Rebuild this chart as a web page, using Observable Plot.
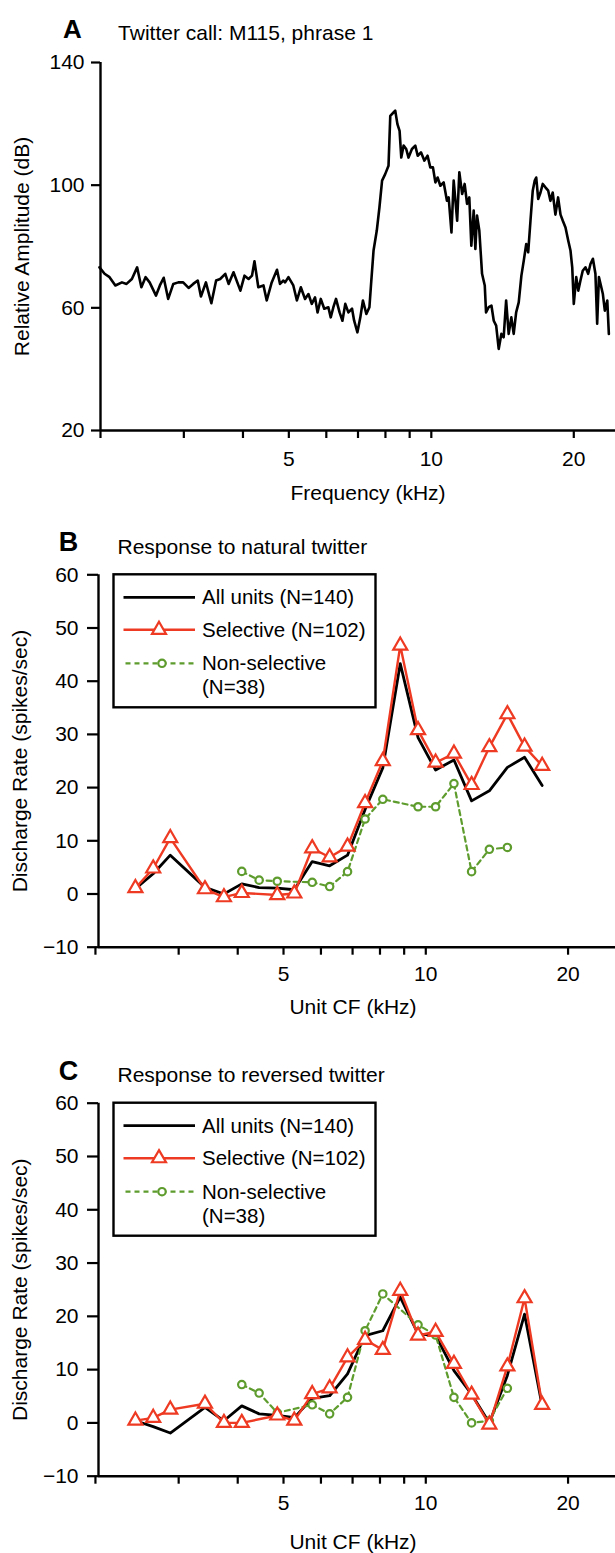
<!DOCTYPE html>
<html><head><meta charset="utf-8">
<script src="https://cdn.jsdelivr.net/npm/d3@7"></script>
<script src="https://cdn.jsdelivr.net/npm/@observablehq/plot@0.6"></script>
<style>
html,body{margin:0;padding:0;background:#fff;}
#page{position:relative;width:615px;height:1553px;overflow:hidden;background:#fff;}
#page svg{position:absolute;left:0;}
</style></head><body><div id="page"></div>
<script>
// ---------- DATA ----------
// Panel A: spectrum of twitter call (frequency kHz, relative amplitude dB)
const specFreq = [1.99,2.04,2.09,2.15,2.22,2.27,2.33,2.39,2.44,2.49,2.54,2.62,2.67,2.72,2.78,2.85,2.92,2.99,3.07,3.14,3.21,3.26,3.34,3.43,3.51,3.58,3.67,3.73,3.82,3.95,4.03,4.11,4.18,4.23,4.31,4.42,4.49,4.60,4.72,4.79,4.87,
4.91,4.99,5.11,5.20,5.30,5.41,5.50,5.59,5.68,5.75,5.84,5.94,6.06,6.13,6.21,6.29,6.40,6.49,6.58,6.68,6.80,6.87,6.98,7.08,7.17,7.29,7.40,7.46,7.55,7.67,7.77,7.87,7.99,8.12,8.19,8.32,8.39,8.48,8.57,8.64,8.74,8.85,8.95,9.10,9.25,9.36,9.51,9.67,9.82,9.95,10.08,10.20,10.31,10.45,10.62,10.79,
10.88,11.03,11.15,11.34,11.46,11.62,11.76,11.90,12.03,12.15,12.29,12.39,12.49,12.63,12.80,12.97,13.05,13.22,13.40,13.55,13.71,13.88,14.06,14.22,14.39,14.57,14.76,14.93,15.11,15.30,15.50,15.68,15.87,16.02,16.20,16.38,16.54,16.66,16.82,17.01,17.20,17.42,17.66,17.85,18.05,18.29,18.53,18.75,18.96,19.21,19.47,19.68,19.85,20.00,20.24,20.44,20.66,20.89,21.17,21.45,21.69,21.95,22.22,22.41,22.60,22.82,23.04,23.26,23.54,23.72];
const specDb = [73.2,71.1,70.0,67.3,68.3,67.8,69.4,73.2,66.7,70.0,68.3,64.0,67.3,69.8,62.9,67.8,68.3,68.3,66.5,67.8,68.9,63.7,68.3,61.5,68.9,69.4,71.1,67.8,71.6,65.6,70.5,69.4,70.5,75.2,66.7,67.3,62.4,68.3,72.4,67.8,68.9,
68.3,70.0,67.3,62.4,66.7,62.9,64.5,61.3,63.4,58.5,62.9,59.7,60.2,56.9,60.2,62.9,58.5,55.8,61.3,58.5,59.7,55.8,52.0,56.9,62.4,58.0,60.2,67.8,78.7,85.2,92.8,101.5,103.6,106.3,122.6,123.7,124.3,119.9,117.7,109.0,112.9,111.8,109.0,111.8,112.9,109.6,110.7,108.0,109.6,105.8,105.8,100.9,102.5,99.8,100.9,94.9,
96.0,84.6,101.5,88.4,104.2,97.1,100.4,93.9,96.0,80.3,91.7,79.2,90.1,85.2,71.1,67.3,58.5,60.2,60.7,55.8,54.2,46.6,51.5,50.4,62.4,51.5,56.9,51.5,58.5,61.8,70.5,75.4,80.8,78.1,88.4,98.2,101.5,102.5,95.5,97.6,100.4,99.3,98.2,94.9,97.6,90.4,96.0,90.4,88.4,86.2,81.9,78.7,73.2,61.3,70.0,65.6,68.9,72.1,73.2,71.1,74.3,76.0,71.1,54.8,70.0,67.3,64.5,59.1,62.4,51.5];

// Panels B & C: unit CF bins (kHz) and discharge rates (spikes/sec); null = no point
const cfBins = [2.43,2.65,2.88,3.14,3.41,3.74,4.08,4.44,4.85,5.27,5.75,6.26,6.83,7.44,8.11,8.83,9.63,10.49,11.47,12.50,13.63,14.88,16.18,17.63];
const natAll = [1.0,3.8,7.3,null,1.25,0.0,1.9,1.2,1.1,0.8,6.1,5.3,7.3,15.9,23.7,43.3,29.4,23.3,25.2,17.5,19.4,23.8,25.7,20.4];
const natSel = [1.1,4.8,10.5,null,0.9,-0.6,0.2,null,-0.2,0.1,8.6,6.9,8.9,17.1,25.0,46.7,30.8,24.7,26.4,20.5,27.6,33.8,27.7,24.1];
const natNon = [null,null,null,null,null,null,4.25,2.6,2.4,null,2.2,1.4,4.2,14.1,17.8,null,16.4,16.4,20.75,4.2,8.4,8.75,null,null];
const revAll = [0.4,-0.7,-1.9,null,2.9,0.4,3.2,1.7,1.4,1.0,4.6,5.1,9.2,16.4,17.3,23.6,16.7,16.4,9.8,5.4,0.0,8.9,20.4,3.2];
const revSel = [0.44,0.94,2.5,null,3.6,0.0,0.0,null,1.4,0.44,5.4,6.5,12.3,15.6,13.7,24.8,16.4,17.1,11.1,5.3,-0.3,10.6,23.4,3.4];
const revNon = [null,null,null,null,null,null,7.2,5.6,1.9,null,3.4,1.7,4.8,17.3,24.2,null,18.4,16.5,4.8,0.0,0.4,6.5,null,null];

// Axes / labels
const freqDomainA = [2.0, 24.5];
const cfDomain = [2.03, 25.2];
const ampDomain = [20, 140];
const rateDomain = [-10, 60];
const xTicks = [2,3,4,5,6,7,8,9,10,20];
const xLabels = [5,10,20];
const ampTicks = [20,60,100,140];
const rateTicks = [-10,0,10,20,30,40,50,60];
const seriesNames = ["All units (N=140)", "Selective (N=102)", "Non-selective", "(N=38)"];
const panelLetters = ["A","B","C"];
const panelTitles = ["Twitter call: M115, phrase 1", "Response to natural twitter", "Response to reversed twitter"];
const xTitles = ["Frequency (kHz)", "Unit CF (kHz)"];
const yTitles = ["Relative Amplitude (dB)", "Discharge Rate (spikes/sec)"];

// ---------- STYLE ----------
const FONT = 'Arial, "Liberation Sans", Helvetica, sans-serif';
const RED = "#ee3a22";
const GREEN = "#5e9c2e";
const page = document.getElementById("page");

function series(vals){ return cfBins.map((cf,i)=>({cf, v: vals[i]})).filter(d => d.v != null); }

function place(svg, top){ svg.style.top = top + "px"; page.appendChild(svg); return svg; }

function commonStyle(){ return {fontFamily: FONT, fontSize: "20px", color: "#000", background: "transparent", overflow: "visible"}; }

// ---------- PANEL A ----------
const spec = specFreq.map((f,i)=>({f, db: specDb[i]}));
const svgA = Plot.plot({
  width: 615, height: 500,
  marginLeft: 100, marginRight: 0, marginTop: 62, marginBottom: 70,
  style: commonStyle(),
  x: {type: "log", domain: freqDomainA},
  y: {domain: ampDomain},
  marks: [
    Plot.axisY({ticks: ampTicks, tickSize: 9, tickPadding: 7, label: null, fontSize: 21, strokeWidth: 2.2}),
    Plot.axisX({ticks: xTicks, tickFormat: d => xLabels.includes(d) ? String(d) : "", tickSize: 8, tickPadding: 13, label: null, fontSize: 21, strokeWidth: 2.2}),
    Plot.ruleX([freqDomainA[0]], {stroke: "#000", strokeWidth: 2.4}),
    Plot.ruleY([ampDomain[0]], {stroke: "#000", strokeWidth: 2.4}),
    Plot.line(spec, {x: "f", y: "db", stroke: "#000", strokeWidth: 2.6, strokeLinejoin: "round"}),
    Plot.text([yTitles[0]], {frameAnchor: "left", rotate: -90, dx: -78, textAnchor: "middle", lineAnchor: "middle", fontSize: 21}),
    Plot.text([xTitles[0]], {frameAnchor: "bottom", dx: 10, dy: 63, textAnchor: "middle", lineAnchor: "middle", fontSize: 21}),
    Plot.text([panelLetters[0]], {frameAnchor: "top-left", dx: -28, dy: -33, textAnchor: "middle", lineAnchor: "middle", fontSize: 26, fontWeight: "bold"}),
    Plot.text([panelTitles[0]], {frameAnchor: "top-left", dx: 17.6, dy: -29.5, textAnchor: "start", lineAnchor: "middle", fontSize: 21})
  ]
});
place(svgA, 0);

// ---------- PANELS B & C ----------
function ratePanel(idx, all, sel, non, top, mTop, height, mBottom, xTitleDy, letterDy, titleDy){
  const svg = Plot.plot({
    width: 615, height,
    marginLeft: 98, marginRight: 0, marginTop: mTop, marginBottom: mBottom,
    style: commonStyle(),
    x: {type: "log", domain: cfDomain},
    y: {domain: rateDomain},
    marks: [
      Plot.axisY({ticks: rateTicks, tickSize: 11, tickPadding: 9, label: null, fontSize: 21, strokeWidth: 2.2}),
      Plot.axisX({ticks: xTicks, tickFormat: d => xLabels.includes(d) ? String(d) : "", tickSize: 8, tickPadding: 11, label: null, fontSize: 21, strokeWidth: 2.2}),
      Plot.ruleX([cfDomain[0]], {stroke: "#000", strokeWidth: 2.4}),
      Plot.ruleY([rateDomain[0]], {stroke: "#000", strokeWidth: 2.4}),
      Plot.line(series(all), {x: "cf", y: "v", stroke: "#000", strokeWidth: 2.8, strokeLinejoin: "round"}),
      Plot.line(series(non), {x: "cf", y: "v", stroke: GREEN, strokeWidth: 2.2, strokeDasharray: "5,4"}),
      Plot.dot(series(non), {x: "cf", y: "v", r: 3.7, stroke: GREEN, fill: "white", strokeWidth: 2.2}),
      Plot.line(series(sel), {x: "cf", y: "v", stroke: RED, strokeWidth: 2.4, strokeLinejoin: "round"}),
      Plot.dot(series(sel), {x: "cf", y: "v", symbol: "triangle", r: 5.2, stroke: RED, fill: "white", strokeWidth: 2.2}),
      Plot.text([yTitles[1]], {frameAnchor: "left", rotate: -90, dx: -78.5, textAnchor: "middle", lineAnchor: "middle", fontSize: 21}),
      Plot.text([xTitles[1]], {frameAnchor: "bottom", dx: -4, dy: xTitleDy, textAnchor: "middle", lineAnchor: "middle", fontSize: 21}),
      Plot.text([panelLetters[idx]], {frameAnchor: "top-left", dx: -30, dy: letterDy, textAnchor: "middle", lineAnchor: "middle", fontSize: 27, fontWeight: "bold"}),
      Plot.text([panelTitles[idx]], {frameAnchor: "top-left", dx: 19, dy: titleDy, textAnchor: "start", lineAnchor: "middle", fontSize: 21})
    ]
  });
  addLegend(svg, mTop);
  return place(svg, top);
}

function addLegend(svg, frameTop){
  const g = d3.select(svg).append("g")
    .attr("font-family", FONT).attr("font-size", 20.5).attr("fill", "#000").attr("text-anchor", "start");
  const left = 113.5, w = 262, h = 133;
  const rows = [23, 55.5, 89, 113].map(r => frameTop + r);
  g.append("rect").attr("x", left).attr("y", frameTop).attr("width", w).attr("height", h)
    .attr("fill", "white").attr("stroke", "#000").attr("stroke-width", 2.4);
  // row 1: black line
  g.append("line").attr("x1", 123.5).attr("x2", 195).attr("y1", rows[0]).attr("y2", rows[0]).attr("stroke", "#000").attr("stroke-width", 2.8);
  // row 2: red line + triangle
  g.append("line").attr("x1", 123.5).attr("x2", 195).attr("y1", rows[1]).attr("y2", rows[1]).attr("stroke", RED).attr("stroke-width", 2.4);
  g.append("path").attr("d", d3.symbol(d3.symbolTriangle, Math.PI * 5.2 * 5.2)())
    .attr("transform", `translate(159,${rows[1]})`).attr("fill", "white").attr("stroke", RED).attr("stroke-width", 2.2);
  // row 3: green dashed + circle
  g.append("line").attr("x1", 125.5).attr("x2", 196).attr("y1", rows[2]).attr("y2", rows[2]).attr("stroke", GREEN).attr("stroke-width", 2.2).attr("stroke-dasharray", "5,4");
  g.append("circle").attr("cx", 162).attr("cy", rows[2]).attr("r", 3.7).attr("fill", "white").attr("stroke", GREEN).attr("stroke-width", 2.2);
  seriesNames.forEach((t, i) => {
    g.append("text").attr("x", 202).attr("y", rows[i]).attr("dy", "0.35em").attr("text-anchor", "start").text(t);
  });
}

ratePanel(1, natAll, natSel, natNon, 510, 64.3, 520, 83.3, 60, -32.6, -27.3);
ratePanel(2, revAll, revSel, revNon, 1040, 62.7, 513, 77.3, 66, -31.9, -27.7);
</script>
</body></html>
